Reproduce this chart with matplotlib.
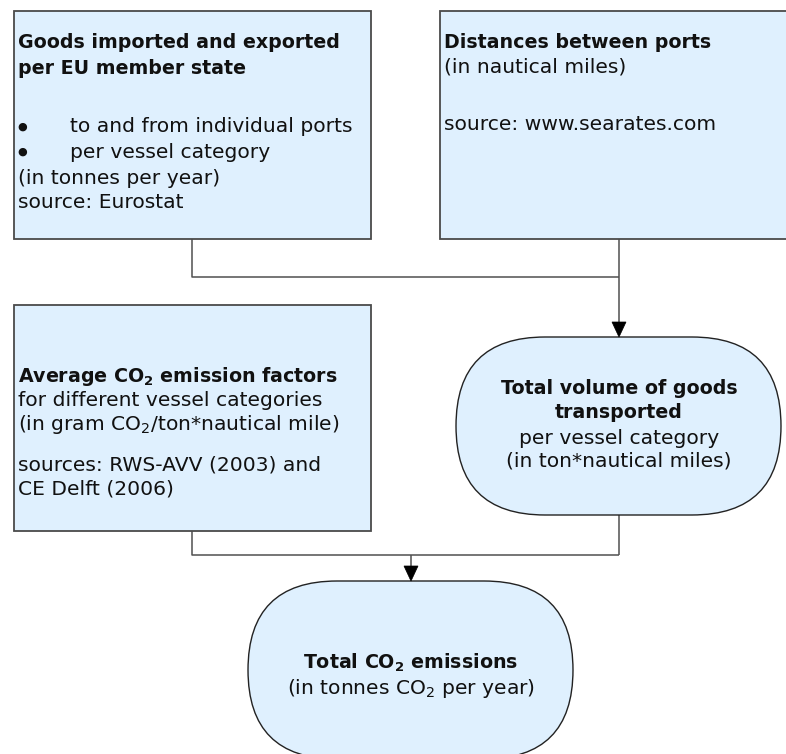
import matplotlib
matplotlib.use("Agg")
import matplotlib.pyplot as plt
from matplotlib.patches import Rectangle, FancyBboxPatch, Polygon

W, H = 786, 754
FILL = "#DFF0FE"
EDGE = "#4a4a4a"
LINE = "#505050"
FS_REG = 14.6
FS_BOLD = 13.7

# ---- content ----
box1_lines = [("Goods imported and exported", True), ("per EU member state", True)]
box1_bullets = ["to and from individual ports", "per vessel category"]
box1_tail = ["(in tonnes per year)", "source: Eurostat"]
box2_lines = [("Distances between ports", True), ("(in nautical miles)", False)]
box2_source = "source: www.searates.com"
box3_lines = [(r"Average CO$_\mathbf{2}$ emission factors", True),
              ("for different vessel categories", False),
              (r"(in gram CO$_2$/ton*nautical mile)", False)]
box3_sources = ["sources: RWS-AVV (2003) and", "CE Delft (2006)"]
stad1_lines = [("Total volume of goods", True), ("transported", True),
               ("per vessel category", False), ("(in ton*nautical miles)", False)]
stad2_lines = [(r"Total CO$_\mathbf{2}$ emissions", True),
               (r"(in tonnes CO$_2$ per year)", False)]

plt.rcParams['font.family'] = ['DejaVu Sans']
plt.rcParams['mathtext.fontset'] = 'dejavusans'
plt.rcParams['mathtext.default'] = 'regular'

fig = plt.figure(figsize=(W / 100, H / 100), dpi=100)
ax = fig.add_axes([0, 0, 1, 1])
ax.set_xlim(0, W)
ax.set_ylim(H, 0)
ax.axis("off")


def rect(x0, y0, x1, y1):
    ax.add_patch(Rectangle((x0, y0), x1 - x0, y1 - y0, facecolor=FILL,
                           edgecolor=EDGE, lw=1.3, zorder=2, clip_on=False))


def stadium(x0, y0, x1, y1):
    r = (y1 - y0) / 2
    ax.add_patch(FancyBboxPatch((x0, y0), x1 - x0, y1 - y0,
                                boxstyle=f"round,pad=0,rounding_size={r}",
                                facecolor=FILL, edgecolor="#222222", lw=1.0,
                                zorder=2, clip_on=True))


def txt(x, y, s, bold=False, ha="left", size=None):
    fs = size if size else (FS_BOLD if bold else FS_REG)
    ax.text(x, y, s, fontsize=fs, fontweight="bold" if bold else "normal",
            ha=ha, va="center", color="#111111", zorder=5)


def seg(pts):
    xs, ys = zip(*pts)
    ax.plot(xs, ys, color=LINE, lw=1.1, zorder=1, solid_capstyle="butt")


def arrow(x, ytip):
    ax.add_patch(Polygon([(x - 7, ytip - 15), (x + 7, ytip - 15), (x, ytip)],
                         closed=True, facecolor="black", edgecolor="black",
                         lw=0.5, zorder=4))


# connectors
seg([(192, 239), (192, 277), (619, 277)])
seg([(619, 239), (619, 325)])
arrow(619, 337)
seg([(192, 531), (192, 555), (619, 555)])
seg([(619, 515), (619, 555)])
seg([(411, 555), (411, 570)])
arrow(411, 581)

# boxes
rect(14, 11, 371, 239)
rect(440, 11, 800, 239)
rect(14, 305, 371, 531)
stadium(456, 337, 781, 515)
stadium(248, 581, 573, 759)

# box1 text
txt(18, 43, box1_lines[0][0], True)
txt(18, 69, box1_lines[1][0], True)
txt(17, 127, "●", size=8)
txt(70, 127, box1_bullets[0])
txt(17, 152, "●", size=8)
txt(70, 152, box1_bullets[1])
txt(18, 178, box1_tail[0])
txt(18, 203, box1_tail[1])

# box2 text
txt(444, 42, box2_lines[0][0], True)
txt(444, 67, box2_lines[1][0])
txt(444, 125, box2_source)

# box3 text
for (s, b), y in zip(box3_lines, [377, 401, 425]):
    txt(18, y, s, b)
for s, y in zip(box3_sources, [465, 489]):
    txt(18, y, s)

# stadium texts
for (s, b), y in zip(stad1_lines, [388, 413, 438, 461]):
    txt(619, y, s, b, ha="center")
for (s, b), y in zip(stad2_lines, [663, 688]):
    txt(411, y, s, b, ha="center")

fig.savefig("out.png", dpi=100, facecolor="white")
